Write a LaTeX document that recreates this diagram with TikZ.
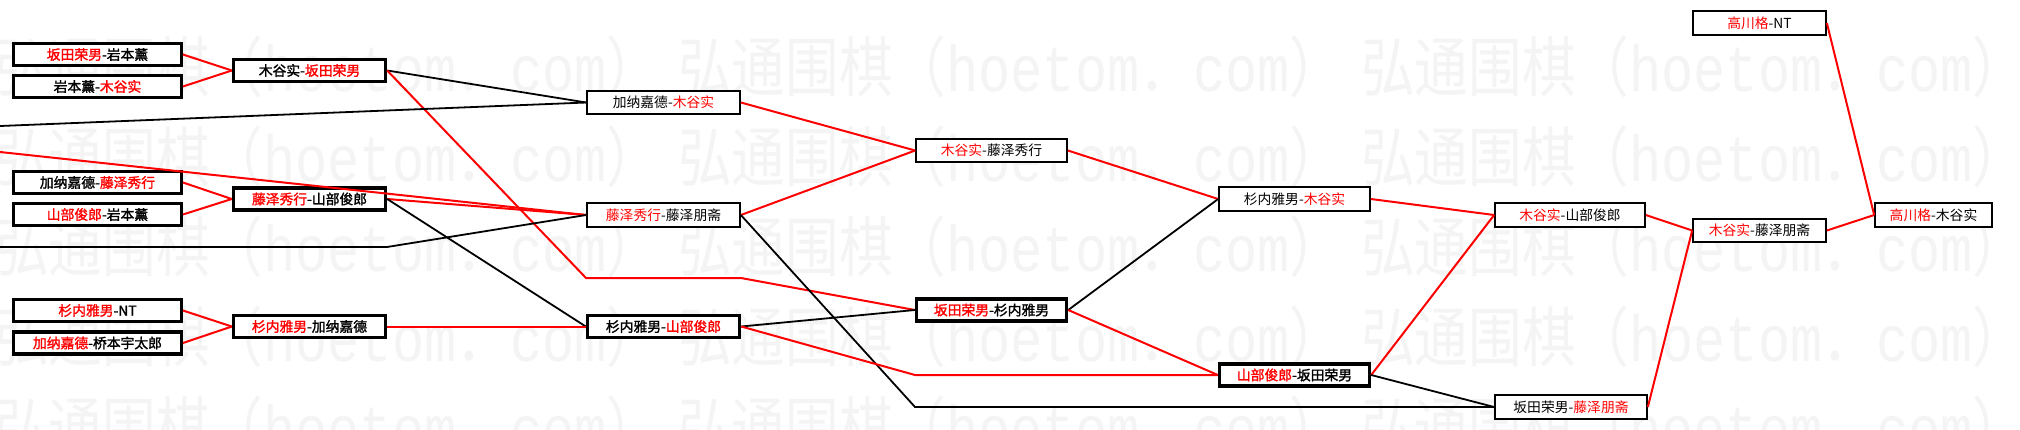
\documentclass[tikz,border=0pt]{standalone}
\usepackage{fontspec}
\newfontfamily\cjk{Noto Sans CJK SC}
\newfontfamily\cjkb{Noto Sans CJK SC}[FakeBold=1.6]
\newfontfamily\wmlat{Liberation Mono}
\newcommand\R[1]{\textcolor{red}{#1}}
\tikzset{
  box/.style={draw=black, fill=white, inner sep=0pt, text=black, anchor=center},
  tbox/.style={box, line width=3.4pt, minimum width=167.5pt, minimum height=22pt,
    font=\fontsize{13.8}{16}\selectfont\cjkb},
  tboxm/.style={tbox, minimum width=152pt},
  nbox/.style={box, line width=1.7pt, minimum height=23.5pt,
    font=\fontsize{13.8}{16}\selectfont\cjk},
  rl/.style={draw=red, line width=2pt},
  bl/.style={draw=black, line width=1.8pt},
  wm/.style={anchor=west, inner sep=0pt, text=black!4.5}
}
\begin{document}
\begin{tikzpicture}[x=1pt,y=-1pt]
\useasboundingbox (0,0) rectangle (2020,429);
\fill[white] (0,0) rectangle (2020,429);
% watermark
\foreach \yy in {67,157,247,337,427}{
  \foreach \xx in {-5,678,1361}{
    \node[wm, name=wm\yy x\xx] at (\xx,\yy)
      {\resizebox*{665pt}{62pt}{\cjk 弘通围棋（{\wmlat hoetom}．{\wmlat com}）}};
  }
}
% column 1
\node[tbox] (A) at (97.5,54.5) {\R{坂田荣男}-岩本薰};
\node[tbox] (B) at (97.5,86.5) {岩本薰-\R{木谷实}};
\node[tbox] (D) at (97.5,182.5) {加纳嘉德-\R{藤泽秀行}};
\node[tbox] (F) at (97.5,214.5) {\R{山部俊郎}-岩本薰};
\node[tbox] (G) at (97.5,310.5) {\R{杉内雅男}-NT};
\node[tbox] (H) at (97.5,343) {\R{加纳嘉德}-桥本宇太郎};
% column 2
\node[tboxm] (C) at (309.5,70.5) {木谷实-\R{坂田荣男}};
\node[tboxm] (E) at (309.5,199) {\R{藤泽秀行}-山部俊郎};
\node[tboxm] (I) at (309.5,326.5) {\R{杉内雅男}-加纳嘉德};
% column 3
\node[nbox, minimum width=153pt] (c3a) at (663.5,102.5) {加纳嘉德-\R{木谷实}};
\node[nbox, minimum width=153pt] (c3b) at (663.5,215) {\R{藤泽秀行}-藤泽朋斋};
\node[tboxm] (c3c) at (663.5,326.5) {杉内雅男-\R{山部俊郎}};
% column 4
\node[nbox, minimum width=151pt] (c4a) at (991.5,150.5) {\R{木谷实}-藤泽秀行};
\node[tboxm, minimum width=150pt] (c4b) at (991.5,310) {\R{坂田荣男}-杉内雅男};
% column 5
\node[nbox, minimum width=151pt] (c5a) at (1294.5,199) {杉内雅男-\R{木谷实}};
\node[tboxm, minimum width=150pt] (c5b) at (1294.5,375) {\R{山部俊郎}-坂田荣男};
% column 6
\node[nbox, minimum width=150pt] (c6a) at (1570,215) {\R{木谷实}-山部俊郎};
\node[nbox, minimum width=152pt] (c6b) at (1571,407) {坂田荣男-\R{藤泽朋斋}};
% column 7
\node[nbox, minimum width=133pt] (c7a) at (1759.5,23) {\R{高川格}-NT};
\node[nbox, minimum width=133pt] (c7b) at (1759.5,230.5) {\R{木谷实}-藤泽朋斋};
% column 8
\node[nbox, minimum width=117pt] (c8) at (1933.5,215) {\R{高川格}-木谷实};
% free ends and bends
\coordinate (l1) at (0,126);
\coordinate (l2) at (0,152);
\coordinate (l3) at (0,247);
\coordinate (l3b) at (387,247);
\coordinate (b1) at (586,278);
\coordinate (b2) at (741,278);
\coordinate (b3) at (915,407);
\coordinate (b4) at (915,375);
% connectors
\draw[rl] (A.east) -- (C.west);
\draw[rl] (B.east) -- (C.west);
\draw[bl] (C.east) -- (c3a.west);
\draw[rl] (C.east) -- (b1) -- (b2) -- (c4b.west);
\draw[rl] (D.east) -- (E.west);
\draw[rl] (F.east) -- (E.west);
\draw[rl] (E.east) -- (c3b.west);
\draw[bl] (E.east) -- (c3c.west);
\draw[rl] (G.east) -- (I.west);
\draw[rl] (H.east) -- (I.west);
\draw[rl] (I.east) -- (c3c.west);
\draw[bl] (l1) -- (c3a.west);
\draw[rl] (l2) -- (c3b.west);
\draw[bl] (l3) -- (l3b) -- (c3b.west);
\draw[rl] (c3a.east) -- (c4a.west);
\draw[rl] (c3b.east) -- (c4a.west);
\draw[bl] (c3b.east) -- (b3) -- (c6b.west);
\draw[bl] (c3c.east) -- (c4b.west);
\draw[rl] (c3c.east) -- (b4) -- (c5b.west);
\draw[rl] (c4a.east) -- (c5a.west);
\draw[bl] (c4b.east) -- (c5a.west);
\draw[rl] (c4b.east) -- (c5b.west);
\draw[rl] (c5a.east) -- (c6a.west);
\draw[rl] (c5b.east) -- (c6a.west);
\draw[bl] (c5b.east) -- (c6b.west);
\draw[rl] (c6a.east) -- (c7b.west);
\draw[rl] (c6b.east) -- (c7b.west);
\draw[rl] (c7b.east) -- (c8.west);
\draw[rl] (c7a.east) -- (c8.west);
\end{tikzpicture}
\end{document}
